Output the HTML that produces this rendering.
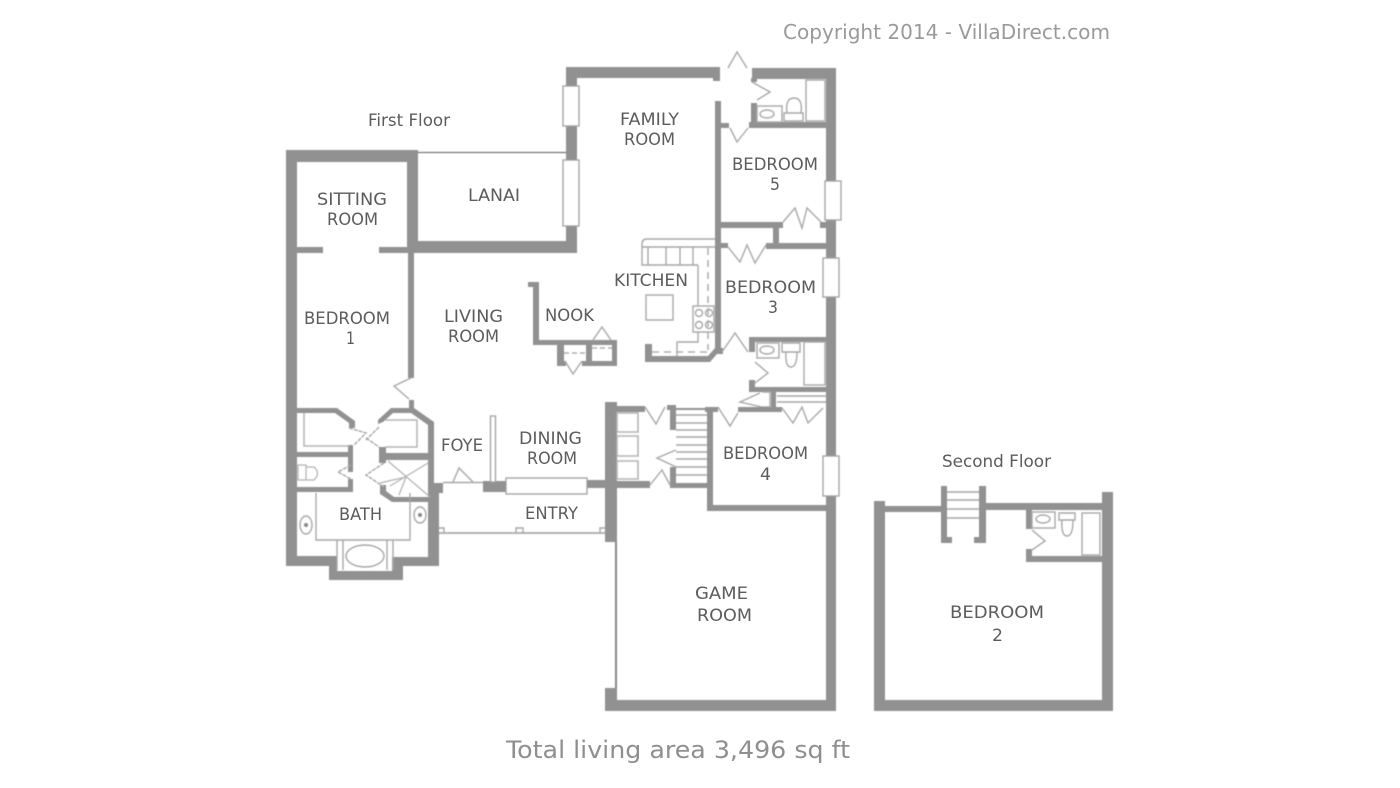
<!DOCTYPE html>
<html><head><meta charset="utf-8"><style>
html,body{margin:0;padding:0;background:#fff;width:1400px;height:788px;overflow:hidden}
svg{display:block}
text{font-family:"DejaVu Sans","Liberation Sans",sans-serif;fill:#5c5c5c;font-size:17px}
.w{fill:#919191}
.t{fill:none;stroke:#a8a8a8;stroke-width:1.4}
.l{fill:none;stroke:#b4b4b4;stroke-width:1.3}
.d{fill:none;stroke:#b0b0b0;stroke-width:1.6;stroke-dasharray:7 5}
.win{fill:#fff;stroke:#a0a0a0;stroke-width:1.3}
.s{fill:none;stroke:#919191}
</style></head><body>
<svg width="1400" height="788" viewBox="0 0 1400 788" xmlns="http://www.w3.org/2000/svg">
<g style="filter:blur(.45px)">
<!-- west block -->
<rect class="w" x="286" y="150" width="11" height="416"/>
<rect class="w" x="286" y="150" width="132" height="12"/>
<rect class="w" x="407" y="150" width="11" height="102"/>
<rect class="w" x="407" y="241" width="170" height="12"/>
<rect class="w" x="566" y="68" width="11" height="185"/>
<rect class="w" x="566" y="67" width="154" height="11"/>
<rect class="w" x="752" y="68" width="84" height="11"/>
<rect class="w" x="826" y="68" width="10" height="643"/>
<rect class="w" x="297" y="247" width="26" height="6"/>
<rect class="w" x="379" y="247" width="30" height="6"/>
<rect class="w" x="408" y="252" width="6" height="126"/>
<path class="t" style="stroke:#777;stroke-width:1.2" d="M418 152.500H566"/>
<!-- nook -->
<rect class="w" x="528" y="282" width="11" height="5"/>
<rect class="w" x="533" y="282" width="6" height="63"/>
<rect class="w" x="533" y="340" width="84" height="5"/>
<rect class="w" x="557" y="340" width="7" height="26"/>
<rect class="w" x="557" y="361" width="9" height="5"/>
<rect class="w" x="586" y="340" width="6" height="26"/>
<rect class="w" x="582" y="361" width="35" height="5"/>
<rect class="w" x="612" y="340" width="5" height="26"/>
<path class="d" d="M564 368M564 353h22M592 348h20" style="stroke-dasharray:5 3"/>
<path class="t" d="M565 361l8 13 9-13M593 340l9-13 9 13"/>
<!-- kitchen -->
<path class="t" d="M715 239H647q-5 0-5 5v3h73M642 247v18h56M648 247v18M666 247v18M680 247v18M693 247v18M698 265v41M698 332v10h-21v15"/>
<path class="d" d="M708 248v102M652 352h56"/>
<rect class="t" x="646" y="295" width="27" height="25"/>
<rect class="t" x="693" y="306" width="21" height="26"/>
<circle class="t" cx="699" cy="313" r="3.5"/><circle class="t" cx="709" cy="313" r="3.500"/>
<circle class="t" cx="699" cy="325" r="3.5"/><circle class="t" cx="709" cy="325" r="3.500"/>
<path class="w" d="M715 101h6v247l2 0v6h-6l-7 8h-65v-18h7v12h56l7-8z"/>
<!-- north bath & door -->
<path class="w" d="M713 78h7v3h-7zM751 78h6v4h-6zM751 103h6v20h-6zM749 122h77v6h-77zM721 123h8v5h-8z"/>
<path class="t" d="M728 68l9-16 10 16M752 82l18 10-13 8M730 128l7 14 11-14"/>
<rect class="t" x="757" y="106" width="25" height="16"/>
<ellipse class="t" cx="767" cy="114" rx="7" ry="4"/>
<path class="t" d="M784 121v-8h19v8zM787 113q-2-15 7-15t7 15"/>
<rect class="t" x="806" y="80" width="19" height="41"/>
<!-- bedroom 5/3 partition -->
<path class="w" d="M721 222h62v6h-4v15h47v6h-60v-6h7v-15h-52zM820 222h6v6h-6z"/>
<path class="t" d="M783 222l12-14 7 20 5-20 14 14M728 247l12 15 7-17 8 18 11-18"/>
<rect class="w" x="721" y="243" width="7" height="5"/>
<!-- bath 3 -->
<path class="w" d="M749 337h77v5h-71v10h-6zM749 380h6v7h71v5h-77zM771 392h5v15h-5z"/>
<path class="t" d="M722 352l13-19 13 19M755 362l13 11-13 10"/>
<rect class="t" x="757" y="343" width="22" height="15"/>
<ellipse class="t" cx="767" cy="350" rx="7" ry="4"/>
<path class="t" d="M782 343h18v9h-18zM786 352q-1 15 5 15t6-15"/>
<rect class="t" x="804" y="342" width="21" height="43"/>
<path class="t" d="M777 396h49M777 402h49M762 392h8v15h-8M760 393l-20 9 22 5"/>
<!-- stair / bedroom 4 -->
<path class="w" d="M605 402h12v4h28v6h-28v69h33v7h-33v54h-12v-54h-18v-8h18z"/>
<path class="w" d="M667 405h9v3h30v2h-30v20h-6v-20h-3zM670 467h6v16h32v5h-38z"/>
<path class="w" d="M705 407h13v5h-5v93h113v6h-119v-99h-2zM738 407h44v5h-44z"/>
<path class="t" d="M645 407l11 17 9-17M650 485l12-15 8 15M676 415h31M676 423h31M676 430h31M676 437h31M676 445h31M676 452h31M676 459h31M676 467h31M676 475h31M676 450l-19 8 19 9M718 407l12 19 8-13M782 408l11 15 9-16 6 16 15-15"/>
<path class="l" d="M617 413h21v19h-21zM617 436h21v20h-21zM617 461h21v18h-21z" style="stroke-width:1.6"/>
<path class="t" d="M616 542V690" style="stroke:#888;stroke-width:2"/>
<rect class="w" x="605" y="688" width="12" height="23"/>
<rect class="w" x="605" y="700" width="231" height="11"/>
<!-- master bath -->
<rect class="w" x="297" y="408" width="40" height="5"/>
<path class="w" d="M337 408l18 13v7h-6v-5l-14-10z"/>
<rect class="w" x="297" y="452" width="56" height="5"/>
<rect class="w" x="348" y="445" width="5" height="27"/>
<rect class="w" x="348" y="479" width="5" height="13"/>
<rect class="w" x="297" y="487" width="56" height="5"/>
<path class="w" d="M378 424v-4l13-12h18v-8h5v8l20 14v71h-6v-68l-17-12h-18l-10 9z"/>
<rect class="w" x="379" y="447" width="7" height="16"/>
<rect class="w" x="380" y="453" width="50" height="7"/>
<path class="w" d="M380 485h6v6l8 6h36v5h-38l-12-8z"/>
<path class="w" d="M428 493h11v73H403v14h-74v-14h-43v-10h51v15h55v-14h36z"/>
<path class="t" d="M351 465l-13 7 13 7M349 428l17 5-12 12M379 427l-13 13M366 438l13 9M384 463l-18 12 18 12" stroke-dasharray="4 1"/>
<path class="l" d="M388 461l42 36M428 463l-38 23M406 477l-7 18M406 477l-26 6"/>
<path class="l" d="M304 413v33h45M385 420h32v27h-32" style="stroke-width:1.5"/>
<path class="l" d="M298 465h8v15h-8zM306 467h8q7 6 0 13h-8"/>
<path class="t" d="M316 493v47h94v-47M337 540v30M343 540v30M393 540v30M387 540v30"/>
<ellipse class="t" cx="365" cy="556" rx="19" ry="11"/>
<ellipse class="t" cx="306" cy="525" rx="6" ry="9"/><circle cx="306" cy="525" r="2" fill="#888"/>
<ellipse class="t" cx="420" cy="515" rx="6" ry="8"/><circle cx="420" cy="515" r="2" fill="#888"/>
<!-- door bed 1 -->
<path class="t" d="M411 378l-17 8 15 13"/>
<rect class="w" x="409" y="400" width="5" height="8"/>
<!-- foyer / entry -->
<path class="w" d="M428 483h15v10h-15zM483 481h24v11h-24zM587 480h18v8h-18z"/>
<path class="t" d="M443 482.500H483"/>
<rect class="win" x="490.500" y="416" width="5" height="66"/>
<path class="t" d="M453 482l6-14 14 14"/>
<rect class="win" x="506" y="478" width="81" height="16"/>
<path class="t" style="stroke-width:1.8" d="M439 533H605"/>
<path class="t" d="M439 528h5v5M516 533v-5h7v5M600 533v-5h5"/>
<!-- windows -->
<rect class="win" x="563" y="86" width="16" height="40"/>
<rect class="win" x="563" y="160" width="16" height="66"/>
<rect class="win" x="825" y="181" width="16" height="39"/>
<rect class="win" x="823" y="258" width="16" height="39"/>
<rect class="win" x="823" y="456" width="16" height="40"/>
<!-- second floor -->
<rect class="w" x="874" y="501" width="11" height="210"/>
<rect class="w" x="874" y="700" width="239" height="11"/>
<rect class="w" x="1102" y="492" width="11" height="219"/>
<rect class="w" x="885" y="506" width="57" height="6"/>
<rect class="w" x="986" y="503" width="117" height="7"/>
<path class="w" d="M941 486h6v51h5v6h-11zM979 486h7v57h-12v-6h5z"/>
<path class="t" d="M947 492h32M947 500h32M947 509h32M947 518h32"/>
<path class="w" d="M1026 510h6v19h-6zM1026 549h6v7h70v6h-76z"/>
<path class="t" d="M1032 530l13 11-13 9"/>
<rect class="t" x="1032" y="512" width="23" height="16"/>
<ellipse class="t" cx="1043" cy="519" rx="7" ry="4"/>
<path class="t" d="M1059 513h16v7h-16zM1062 520q-1 16 5 16t6-16"/>
<rect class="t" x="1082" y="513" width="18" height="42"/>
</g>
<g style="filter:blur(.3px)">
<text x="368" y="126" textLength="82" lengthAdjust="spacingAndGlyphs">First Floor</text>
<text x="942" y="467" textLength="109" lengthAdjust="spacingAndGlyphs">Second Floor</text>
<text x="620" y="125" textLength="59" lengthAdjust="spacingAndGlyphs">FAMILY</text>
<text x="624" y="145" textLength="51" lengthAdjust="spacingAndGlyphs">ROOM</text>
<text x="468" y="201" textLength="52" lengthAdjust="spacingAndGlyphs">LANAI</text>
<text x="317" y="205" textLength="70" lengthAdjust="spacingAndGlyphs">SITTING</text>
<text x="327" y="225" textLength="51" lengthAdjust="spacingAndGlyphs">ROOM</text>
<text x="732" y="170" textLength="86" lengthAdjust="spacingAndGlyphs">BEDROOM</text>
<text x="770" y="190" textLength="10" lengthAdjust="spacingAndGlyphs">5</text>
<text x="725" y="293" textLength="91" lengthAdjust="spacingAndGlyphs">BEDROOM</text>
<text x="768" y="313" textLength="10" lengthAdjust="spacingAndGlyphs">3</text>
<text x="614" y="286" textLength="74" lengthAdjust="spacingAndGlyphs">KITCHEN</text>
<text x="545" y="321" textLength="49" lengthAdjust="spacingAndGlyphs">NOOK</text>
<text x="304" y="324" textLength="86" lengthAdjust="spacingAndGlyphs">BEDROOM</text>
<text x="346" y="344" textLength="9" lengthAdjust="spacingAndGlyphs">1</text>
<text x="444" y="322" textLength="59" lengthAdjust="spacingAndGlyphs">LIVING</text>
<text x="448" y="342" textLength="51" lengthAdjust="spacingAndGlyphs">ROOM</text>
<text x="441" y="451" textLength="42" lengthAdjust="spacingAndGlyphs">FOYE</text>
<text x="519" y="444" textLength="63" lengthAdjust="spacingAndGlyphs">DINING</text>
<text x="527" y="464" textLength="50" lengthAdjust="spacingAndGlyphs">ROOM</text>
<text x="339" y="520" textLength="43" lengthAdjust="spacingAndGlyphs">BATH</text>
<text x="525" y="519" textLength="53" lengthAdjust="spacingAndGlyphs">ENTRY</text>
<text x="723" y="459" textLength="85" lengthAdjust="spacingAndGlyphs">BEDROOM</text>
<text x="760" y="480" textLength="11" lengthAdjust="spacingAndGlyphs">4</text>
<text x="695" y="599" textLength="53" lengthAdjust="spacingAndGlyphs">GAME</text>
<text x="697" y="621" textLength="55" lengthAdjust="spacingAndGlyphs">ROOM</text>
<text x="950" y="618" textLength="94" lengthAdjust="spacingAndGlyphs">BEDROOM</text>
<text x="992" y="641" textLength="11" lengthAdjust="spacingAndGlyphs">2</text>
<text x="783" y="39" textLength="327" lengthAdjust="spacingAndGlyphs" style="font-size:20px;fill:#9a9a9a">Copyright 2014 - VillaDirect.com</text>
<text x="506" y="758" textLength="344" lengthAdjust="spacingAndGlyphs" style="font-size:24px;fill:#8f8f8f">Total living area 3,496 sq ft</text>
</g>
</svg>
</body></html>
